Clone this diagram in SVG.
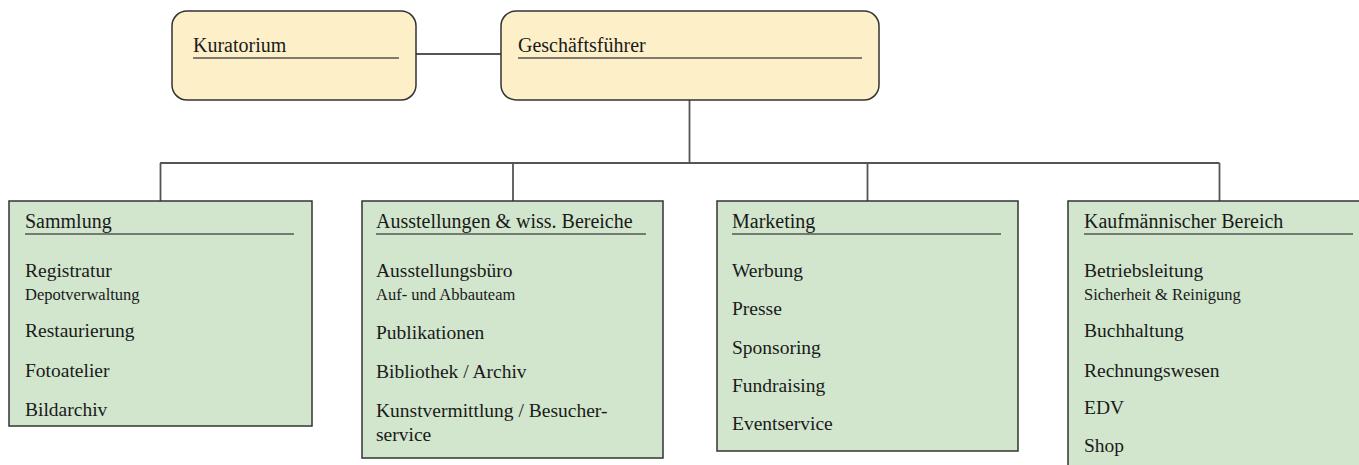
<svg xmlns="http://www.w3.org/2000/svg" width="1359" height="465" viewBox="0 0 1359 465">
<style>
.top{fill:#fdf0c9;stroke:#333;stroke-width:1.5}
.dep{fill:#d1e6cd;stroke:#333;stroke-width:1.5}
.ul{stroke:#555;stroke-width:1.5}
.con{stroke:#555;stroke-width:1.8;fill:none}
text{font-family:"Liberation Serif","Times New Roman",serif;fill:#1a1a1a}
.t{font-size:20px}
.i{font-size:19.5px}
.s{font-size:16.5px}
</style>
<rect width="1359" height="465" fill="#fff"/>
<g id="connectors">
<line class="con" x1="416" y1="54" x2="501" y2="54"/>
<line class="con" x1="689.5" y1="100" x2="689.5" y2="163"/>
<line class="con" x1="160" y1="163" x2="1219.5" y2="163"/>
<line class="con" x1="160.5" y1="163" x2="160.5" y2="201"/>
<line class="con" x1="513" y1="163" x2="513" y2="201"/>
<line class="con" x1="867.5" y1="163" x2="867.5" y2="201"/>
<line class="con" x1="1219.5" y1="163" x2="1219.5" y2="201"/>
</g>
<g id="kuratorium">
<rect class="top" x="172" y="11" width="244" height="89" rx="15"/>
<text class="t" x="193" y="52">Kuratorium</text>
<line class="ul" x1="193" y1="58" x2="399" y2="58"/>
</g>
<g id="geschaeftsfuehrer">
<rect class="top" x="501" y="11" width="378" height="89" rx="15"/>
<text class="t" x="518" y="52">Geschäftsführer</text>
<line class="ul" x1="518" y1="58" x2="862" y2="58"/>
</g>
<g id="sammlung">
<rect class="dep" x="9" y="201" width="303" height="225"/>
<text class="t" x="25" y="228">Sammlung</text>
<line class="ul" x1="25" y1="234" x2="294" y2="234"/>
<text class="i" x="25" y="277">Registratur</text>
<text class="s" x="25" y="300">Depotverwaltung</text>
<text class="i" x="25" y="337">Restaurierung</text>
<text class="i" x="25" y="377">Fotoatelier</text>
<text class="i" x="25" y="416">Bildarchiv</text>
</g>
<g id="ausstellungen">
<rect class="dep" x="362" y="201" width="301" height="257"/>
<text class="t" x="376" y="228">Ausstellungen &amp; wiss. Bereiche</text>
<line class="ul" x1="376" y1="234" x2="646" y2="234"/>
<text class="i" x="376" y="277">Ausstellungsbüro</text>
<text class="s" x="376" y="300">Auf- und Abbauteam</text>
<text class="i" x="376" y="339">Publikationen</text>
<text class="i" x="376" y="378">Bibliothek / Archiv</text>
<text class="i" x="376" y="417">Kunstvermittlung / Besucher-</text>
<text class="i" x="376" y="441">service</text>
</g>
<g id="marketing">
<rect class="dep" x="717" y="201" width="301" height="250"/>
<text class="t" x="732" y="228">Marketing</text>
<line class="ul" x1="732" y1="234" x2="1001" y2="234"/>
<text class="i" x="732" y="277">Werbung</text>
<text class="i" x="732" y="315">Presse</text>
<text class="i" x="732" y="354">Sponsoring</text>
<text class="i" x="732" y="392">Fundraising</text>
<text class="i" x="732" y="430">Eventservice</text>
</g>
<g id="kaufmaennisch">
<rect class="dep" x="1068" y="201" width="310" height="290"/>
<text class="t" x="1084" y="228">Kaufmännischer Bereich</text>
<line class="ul" x1="1084" y1="234" x2="1353" y2="234"/>
<text class="i" x="1084" y="277">Betriebsleitung</text>
<text class="s" x="1084" y="300">Sicherheit &amp; Reinigung</text>
<text class="i" x="1084" y="337">Buchhaltung</text>
<text class="i" x="1084" y="377">Rechnungswesen</text>
<text class="i" x="1084" y="414">EDV</text>
<text class="i" x="1084" y="452">Shop</text>
</g>
</svg>
